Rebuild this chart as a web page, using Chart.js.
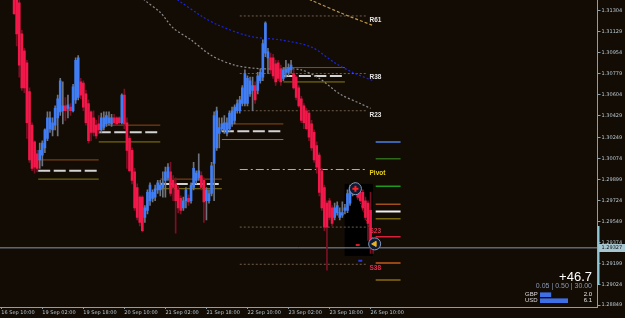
<!DOCTYPE html>
<html>
<head>
<meta charset="utf-8">
<script src="https://cdn.jsdelivr.net/npm/chart.js@4.4.1/dist/chart.umd.min.js"></script>
<style>
  html, body { margin: 0; padding: 0; background: #130c05; }
  canvas { display: block; }
</style>
</head>
<body>
<canvas id="chart" width="625" height="318"></canvas>
<script>
/* ------------------------------------------- */
/* DATA -------------------------------------- */
/* ------------------------------------------- */
const xTickIdx = [0, 16, 32, 48, 64, 80, 96, 112, 128, 144];
const xTickLabels = ["16 Sep 10:00", "19 Sep 02:00", "19 Sep 18:00", "20 Sep 10:00", "21 Sep 02:00",
  "21 Sep 18:00", "22 Sep 10:00", "23 Sep 02:00", "23 Sep 18:00", "26 Sep 10:00"];
const yTicks = [1.31304, 1.31129, 1.30954, 1.30779, 1.30604, 1.30429, 1.30249, 1.30074,
  1.29899, 1.29724, 1.29549, 1.29374, 1.29199, 1.29024, 1.28849];

// GBPUSD H1 (heiken ashi style bars)
const open = [
  1.3172,1.3168,1.3162,1.3157,1.3152, 1.3144,1.3141,1.3137,1.3111,1.3097,
  1.3087,1.3063,1.3035,1.3021,1.3011, 1.3006,1.3010,1.3016,1.3024,1.3032,
  1.3031,1.3035,1.3041,1.3046,1.3047, 1.3051,1.3049,1.3050,1.3047,1.3056,
  1.3058,1.3071,1.3070,1.3061,1.3053, 1.3046,1.3041,1.3035,1.3036,1.3031,
  1.3033,1.3036,1.3037,1.3036,1.3041, 1.3041,1.3041,1.3037,1.3060,1.3037,
  1.3024,1.3014,1.2996,1.2983,1.2975, 1.2975,1.2958,1.2964,1.2972,1.2974,
  1.2975,1.2981,1.2981,1.2983,1.2989, 1.2991,1.2996,1.2989,1.2986,1.2981,
  1.2974,1.2966,1.2972,1.2974,1.2972, 1.2983,1.2989,1.2991,1.2993,1.2989,
  1.2972,1.2972,1.2978,1.3003,1.3016, 1.3028,1.3032,1.3031,1.3028,1.3032,
  1.3036,1.3039,1.3047,1.3047,1.3053, 1.3053,1.3053,1.3061,1.3064,1.3068,
  1.3064,1.3072,1.3075,1.3095,1.3091, 1.3091,1.3091,1.3086,1.3087,1.3082,
  1.3074,1.3079,1.3079,1.3081,1.3078, 1.3075,1.3066,1.3057,1.3051,1.3047,
  1.3045,1.3036,1.3029,1.3018,1.3010, 1.2997,1.2983,1.2970,1.2972,1.2966,
  1.2958,1.2962,1.2958,1.2960,1.2964, 1.2964,1.2970,1.2978,1.2981,1.2981,
  1.2979,1.2979,1.2972,1.2970,1.2964,1.2936];
const high = [
  1.3178,1.3170,1.3166,1.3160,1.3155, 1.3146,1.3146,1.3139,1.3114,1.3099,
  1.3089,1.3066,1.3037,1.3022,1.3014, 1.3020,1.3022,1.3032,1.3046,1.3046,
  1.3041,1.3051,1.3060,1.3074,1.3071, 1.3058,1.3060,1.3053,1.3069,1.3091,
  1.3093,1.3074,1.3072,1.3064,1.3056, 1.3047,1.3047,1.3039,1.3043,1.3045,
  1.3046,1.3046,1.3046,1.3044,1.3044, 1.3042,1.3042,1.3061,1.3065,1.3041,
  1.3026,1.3016,1.2999,1.2986,1.2976, 1.2976,1.2968,1.2981,1.2987,1.2981,
  1.2985,1.2989,1.2989,1.2996,1.3000, 1.3003,1.3004,1.2993,1.2991,1.2984,
  1.2976,1.2975,1.2983,1.2977,1.2987, 1.3004,1.2997,1.3011,1.2996,1.2991,
  1.2983,1.2981,1.3004,1.3046,1.3050, 1.3041,1.3041,1.3043,1.3041,1.3047,
  1.3050,1.3052,1.3056,1.3059,1.3068, 1.3081,1.3076,1.3075,1.3075,1.3071,
  1.3079,1.3082,1.3106,1.3121,1.3099, 1.3095,1.3094,1.3089,1.3089,1.3085,
  1.3083,1.3089,1.3086,1.3089,1.3081, 1.3076,1.3068,1.3059,1.3053,1.3049,
  1.3047,1.3039,1.3031,1.3021,1.3012, 1.2999,1.2985,1.2972,1.2974,1.2968,
  1.2970,1.2971,1.2966,1.2971,1.2969, 1.2981,1.2985,1.2986,1.2987,1.2984,
  1.2981,1.2981,1.2975,1.2972,1.2979,1.2939];
const low = [
  1.3165,1.3158,1.3152,1.3148,1.3143, 1.3127,1.3101,1.3075,1.3064,1.3062,
  1.3024,1.3004,1.2997,1.2995,1.2996, 1.2999,1.3001,1.3012,1.3022,1.3029,
  1.3026,1.3031,1.3026,1.3043,1.3036, 1.3039,1.3041,1.3043,1.3046,1.3053,
  1.3056,1.3057,1.3047,1.3035,1.3020, 1.3022,1.3026,1.3024,1.3028,1.3029,
  1.3031,1.3034,1.3035,1.3034,1.3036, 1.3035,1.3036,1.3036,1.3032,1.2999,
  1.2996,1.2986,1.2964,1.2956,1.2951, 1.2946,1.2954,1.2961,1.2968,1.2971,
  1.2972,1.2978,1.2976,1.2975,1.2975, 1.2989,1.2976,1.2972,1.2945,1.2962,
  1.2961,1.2964,1.2966,1.2968,1.2970, 1.2981,1.2986,1.2989,1.2981,1.2954,
  1.2956,1.2970,1.2976,1.2972,1.3014, 1.3016,1.3030,1.3028,1.3026,1.3030,
  1.3034,1.3036,1.3045,1.3045,1.3051, 1.3051,1.3051,1.3059,1.3047,1.3053,
  1.3061,1.3070,1.3072,1.3092,1.3078, 1.3078,1.3074,1.3068,1.3072,1.3068,
  1.3072,1.3075,1.3076,1.3078,1.3065, 1.3056,1.3050,1.3037,1.3032,1.3031,
  1.3022,1.3014,1.3004,1.2995,1.2976, 1.2964,1.2947,1.2914,1.2956,1.2951,
  1.2956,1.2960,1.2956,1.2958,1.2961, 1.2962,1.2968,1.2976,1.2978,1.2973,
  1.2971,1.2964,1.2956,1.2939,1.2928,1.2928];
const close = [
  1.3168,1.3160,1.3155,1.3150,1.3146, 1.3128,1.3111,1.3085,1.3066,1.3066,
  1.3037,1.3006,1.2999,1.3000,1.2999, 1.3014,1.3020,1.3031,1.3041,1.3041,
  1.3037,1.3049,1.3057,1.3072,1.3051, 1.3047,1.3052,1.3047,1.3067,1.3089,
  1.3091,1.3060,1.3050,1.3037,1.3022, 1.3029,1.3029,1.3026,1.3031,1.3041,
  1.3041,1.3043,1.3041,1.3041,1.3037, 1.3036,1.3037,1.3060,1.3036,1.3014,
  1.2997,1.2989,1.2966,1.2958,1.2954, 1.2947,1.2966,1.2979,1.2985,1.2979,
  1.2982,1.2987,1.2985,1.2987,1.2996, 1.3000,1.2978,1.2983,1.2972,1.2966,
  1.2964,1.2972,1.2981,1.2971,1.2985, 1.2999,1.2995,1.2997,1.2983,1.2971,
  1.2981,1.2978,1.3001,1.3043,1.3047, 1.3033,1.3036,1.3037,1.3037,1.3045,
  1.3047,1.3050,1.3053,1.3056,1.3066, 1.3078,1.3074,1.3072,1.3068,1.3056,
  1.3076,1.3079,1.3103,1.3120,1.3096, 1.3081,1.3076,1.3071,1.3074,1.3071,
  1.3081,1.3082,1.3083,1.3085,1.3066, 1.3058,1.3051,1.3039,1.3037,1.3032,
  1.3025,1.3016,1.3006,1.3000,1.2979, 1.2966,1.2950,1.2950,1.2958,1.2953,
  1.2966,1.2968,1.2962,1.2962,1.2966, 1.2978,1.2983,1.2983,1.2985,1.2975,
  1.2972,1.2966,1.2958,1.2953,1.2936,1.29327];
const lastPrice = 1.29327;

// moving averages (read at a few bars)
const maBlueIdx = [66, 69, 78, 85, 97, 109, 121, 130, 137, 145];
const maBlue = [1.3143, 1.3139, 1.3126, 1.3118, 1.3109, 1.3106, 1.3100, 1.3087, 1.3079, 1.3072];
const maGrayIdx = [50, 56, 62, 67, 74, 82, 91, 101, 109, 117, 124, 132, 140, 144];
const maGray = [1.3152, 1.3139, 1.3129, 1.3116, 1.3106, 1.3093, 1.3085, 1.3082, 1.3082, 1.3081, 1.3074, 1.3061, 1.3053, 1.3049];
const maTanIdx = [113, 121, 133, 145];
const maTan = [1.3147, 1.3139, 1.3128, 1.3118];

// fibo pivot levels
const fibNames = ["R61", "R38", "R23", "Pivot", "S23", "S38"];
const fibLevels = [1.3126, 1.3078, 1.3047, 1.2998, 1.2950, 1.2919];
const fibFrom = 93, fibTo = 142.5;

// daily levels
const dayFrom = [14.4, 38, 62, 86, 110];
const dayTo = [38, 62, 86, 110, 134];
const dayOrange = [1.3006, 1.3035, 1.2990, 1.3036, 1.3083];
const dayWhite = [1.2997, 1.3029, 1.2986, 1.3030, 1.3076];
const dayOlive = [1.2990, 1.3021, 1.2982, 1.3023, 1.3071];

// levels on the right side
const sideFrom = 146, sideTo = 155.7;
const sideLevels = [1.3021, 1.3007, 1.2984, 1.2969, 1.2963, 1.2957, 1.2942, 1.2920, 1.2906];
const sideColors = ["#4a80e8", "#2f6a1c", "#1c9a1c", "#a0501a", "#f0f0f0", "#7a6a10", "#d8203a", "#c05a18", "#8a6a10"];

// today box + trade
const dayBox = { from: 133.9, to: 144.9, hi: 1.2986, lo: 1.2926 };
const tradeIdx = [138.1, 145.6];
const tradePrice = [1.2982, 1.2936];

// info panel
const infoProfit = "+46.7";
const infoLine = "0.05 | 0.50 | 30.00";
const ccyNames = ["GBP", "USD"];
const ccyValues = [2.0, 6.1];

/* ------------------------------------------- */
/* COLORS ------------------------------------ */
/* ------------------------------------------- */
const BG = "#130c05";
const UP = "#3f7ef6";
const DOWN = "#f2184a";
const UP_WICK = "#6e737c";
const DOWN_WICK = "#7a1024";
const AXIS = "#8d9eab";
const TEXT = "#b9c9d1";

/* ------------------------------------------- */
/* DATASETS ---------------------------------- */
/* ------------------------------------------- */
let isUp = (i) => close[i] >= open[i];

function hline(x0, x1, y, color, dash, width, order) {
  return {
    type: 'line',
    data: [{x: x0, y: y}, {x: x1, y: y}],
    borderColor: color,
    borderWidth: width || 1,
    borderDash: dash || [],
    pointRadius: 0,
    clip: 0,
    order: order || 5
  };
}

function curve(idx, vals, color, dash) {
  return {
    type: 'line',
    data: idx.map((x, k) => ({x: x, y: vals[k]})),
    borderColor: color,
    borderWidth: 1.2,
    borderDash: dash,
    pointRadius: 0,
    tension: 0.3,
    clip: 0,
    order: 4
  };
}

let datasets = [];

// trade markers on top
datasets.push({
  type: 'line', order: 0, clip: 0,
  data: tradeIdx.map((x, k) => ({x: x, y: tradePrice[k]})),
  borderColor: '#e0202a', borderWidth: 1, borderDash: [1, 2],
  pointRadius: 6, pointStyle: 'circle',
  pointBackgroundColor: '#0d1b35', pointBorderColor: '#8298b8', pointBorderWidth: 1
});
datasets.push({
  type: 'line', order: -1, clip: 0, showLine: false,
  data: [{x: tradeIdx[0], y: tradePrice[0]}],
  pointRadius: 3, pointStyle: 'cross', pointBorderColor: '#ff2424', pointBorderWidth: 2
});
datasets.push({
  type: 'line', order: -1, clip: 0, showLine: false,
  data: [{x: tradeIdx[1], y: tradePrice[1]}],
  pointRadius: 3, pointStyle: 'triangle', rotation: -90,
  pointBackgroundColor: '#f0b020', pointBorderColor: '#f0b020', pointBorderWidth: 1
});
datasets.push({
  type: 'line', order: 0, clip: 0, showLine: false,
  data: [{x: 139, y: 1.2935}],
  pointRadius: 2, pointStyle: 'line', pointBorderColor: '#d01a2a', pointBorderWidth: 2
});
datasets.push({
  type: 'line', order: 0, clip: 0, showLine: false,
  data: [{x: 140, y: 1.2922}],
  pointRadius: 2, pointStyle: 'line', pointBorderColor: '#2a3ae0', pointBorderWidth: 2
});

// current price line
datasets.push(hline(-0.5, 232.5, lastPrice, '#8796a6', [], 1, 3));

// moving averages
datasets.push(curve(maBlueIdx, maBlue, '#1a24e0', [2, 2]));
datasets.push(curve(maGrayIdx, maGray, '#8c8c8c', [2, 2]));
datasets.push(curve(maTanIdx, maTan, '#c09848', [3, 2]));

// fibo levels
fibNames.forEach((name, k) => {
  if (name == "Pivot") {
    datasets.push(hline(fibFrom, fibTo, fibLevels[k], '#cfc400', [8, 3, 2, 3], 1));
  } else {
    datasets.push(hline(fibFrom, fibTo, fibLevels[k], '#6e5e4a', [2, 2], 1));
  }
});

// daily levels
dayFrom.forEach((x0, k) => {
  datasets.push(hline(x0, dayTo[k], dayOrange[k], '#8e4a1a', [], 1));
  datasets.push(hline(x0, dayTo[k], dayWhite[k], '#d4d4d4', [12, 3.5], 2));
  datasets.push(hline(x0, dayTo[k], dayOlive[k], '#8a7e12', [], 1));
});
sideLevels.forEach((y, k) => {
  datasets.push(hline(sideFrom, sideTo, y, sideColors[k], [], k == 4 ? 2 : 1.5));
});

// candles
datasets.push({
  type: 'bar', order: 1, clip: 0, grouped: false,
  data: open.map((o, i) => ({x: i, y: [o, close[i]]})),
  backgroundColor: (c) => isUp(c.dataIndex) ? UP : DOWN,
  barThickness: 2,
  minBarLength: 1
});
datasets.push({
  type: 'bar', order: 2, clip: 0, grouped: false,
  data: open.map((o, i) => ({x: i, y: [low[i], high[i]]})),
  backgroundColor: (c) => isUp(c.dataIndex) ? UP_WICK : DOWN_WICK,
  barThickness: 1
});

/* ------------------------------------------- */
/* PLUGINS ----------------------------------- */
/* ------------------------------------------- */
let background = {
  id: 'background',
  beforeDraw(chart) {
    let c = chart.ctx;
    c.save();
    c.fillStyle = BG;
    c.fillRect(0, 0, chart.width, chart.height);
    c.restore();
  },
  beforeDatasetsDraw(chart) {
    let c = chart.ctx;
    let xs = chart.scales.x, ys = chart.scales.y;
    let x0 = xs.getPixelForValue(dayBox.from), x1 = xs.getPixelForValue(dayBox.to);
    let y0 = ys.getPixelForValue(dayBox.hi), y1 = ys.getPixelForValue(dayBox.lo);
    c.save();
    c.fillStyle = '#000000';
    c.fillRect(x0, y0, x1 - x0, y1 - y0);
    c.restore();
  }
};

let overlay = {
  id: 'overlay',
  afterDraw(chart) {
    let c = chart.ctx;
    let xs = chart.scales.x, ys = chart.scales.y;
    c.save();

    // fibo labels
    c.font = 'bold 6.5px "Liberation Sans"';
    c.textAlign = 'left';
    c.textBaseline = 'middle';
    fibNames.forEach((name, k) => {
      if (name == "Pivot") c.fillStyle = '#e8d41c';
      else if (name[0] == "S") c.fillStyle = '#e03050';
      else c.fillStyle = '#e4e4e4';
      c.fillText(name, xs.getPixelForValue(143.6), ys.getPixelForValue(fibLevels[k]) + 4);
    });

    // highlighted piece of the price axis
    c.fillStyle = '#8fc6d6';
    c.fillRect(chart.chartArea.right, 226, 2, 59);

    // last price box
    let py = ys.getPixelForValue(lastPrice);
    c.fillStyle = '#a8c6d0';
    c.fillRect(chart.chartArea.right + 1, Math.round(py) - 4, 27, 8);
    c.fillStyle = '#0c1418';
    c.font = '5px "DejaVu Sans"';
    c.fillText(lastPrice.toFixed(5), chart.chartArea.right + 4, py);

    // info panel
    let rx = 592;
    c.textAlign = 'right';
    c.textBaseline = 'alphabetic';
    c.fillStyle = '#ffffff';
    c.font = '13px "Liberation Sans"';
    c.fillText(infoProfit, rx, 281);
    c.font = '7px "Liberation Sans"';
    c.fillStyle = '#8c9ab6';
    c.textBaseline = 'middle';
    c.fillText(infoLine, rx, 286);
    c.font = '6px "Liberation Sans"';
    ccyNames.forEach((name, k) => {
      let y = 294.7 + k * 6;
      c.textAlign = 'left';
      c.fillStyle = '#dcdcdc';
      c.fillText(name, 525, y);
      c.fillStyle = '#3f6fe6';
      c.fillRect(540, y - 2.3, 3 + ccyValues[k] * 4.1, 4.6);
      c.textAlign = 'right';
      c.fillStyle = '#e8e8e8';
      c.fillText(ccyValues[k].toFixed(1), rx, y);
    });
    c.restore();
  }
};

function noPad(s) {
  s.paddingLeft = 0;
  s.paddingRight = 0;
  s.paddingTop = 0;
  s.paddingBottom = 0;
}

/* ------------------------------------------- */
/* CHART ------------------------------------- */
/* ------------------------------------------- */
let chartCont = document.getElementById("chart").getContext('2d');
let chart = new Chart(chartCont, {
  type: 'bar',
  data: { datasets: datasets },
  options: {
    responsive: false,
    animation: false,
    devicePixelRatio: 1,
    layout: { padding: 0, autoPadding: false },
    plugins: {
      legend: { display: false },
      tooltip: { enabled: false }
    },
    scales: {
      x: {
        type: 'linear',
        offset: false,
        min: -0.5,
        max: 232.5,
        afterFit: (s) => { s.height = 11; noPad(s); },
        afterBuildTicks: (s) => { s.ticks = xTickIdx.map(v => ({value: v})); },
        grid: { offset: false, drawOnChartArea: false, drawTicks: true, tickLength: 2, color: AXIS },
        border: { display: true, color: AXIS },
        ticks: {
          autoSkip: false,
          maxRotation: 0,
          align: 'start',
          padding: 1,
          color: TEXT,
          font: { family: 'DejaVu Sans', size: 5 },
          callback: (v) => xTickLabels[xTickIdx.indexOf(v)] || ''
        }
      },
      y: {
        position: 'right',
        min: 1.28834,
        max: 1.31393,
        afterFit: (s) => { s.width = 27.5; noPad(s); },
        afterBuildTicks: (s) => { s.ticks = yTicks.map(v => ({value: v})); },
        grid: { drawOnChartArea: false, drawTicks: true, tickLength: 3, color: AXIS },
        border: { display: true, color: AXIS },
        ticks: {
          padding: 1,
          color: TEXT,
          font: { family: 'DejaVu Sans', size: 5 },
          callback: (v) => v.toFixed(5)
        }
      }
    }
  },
  plugins: [background, overlay]
});
</script>
</body>
</html>
